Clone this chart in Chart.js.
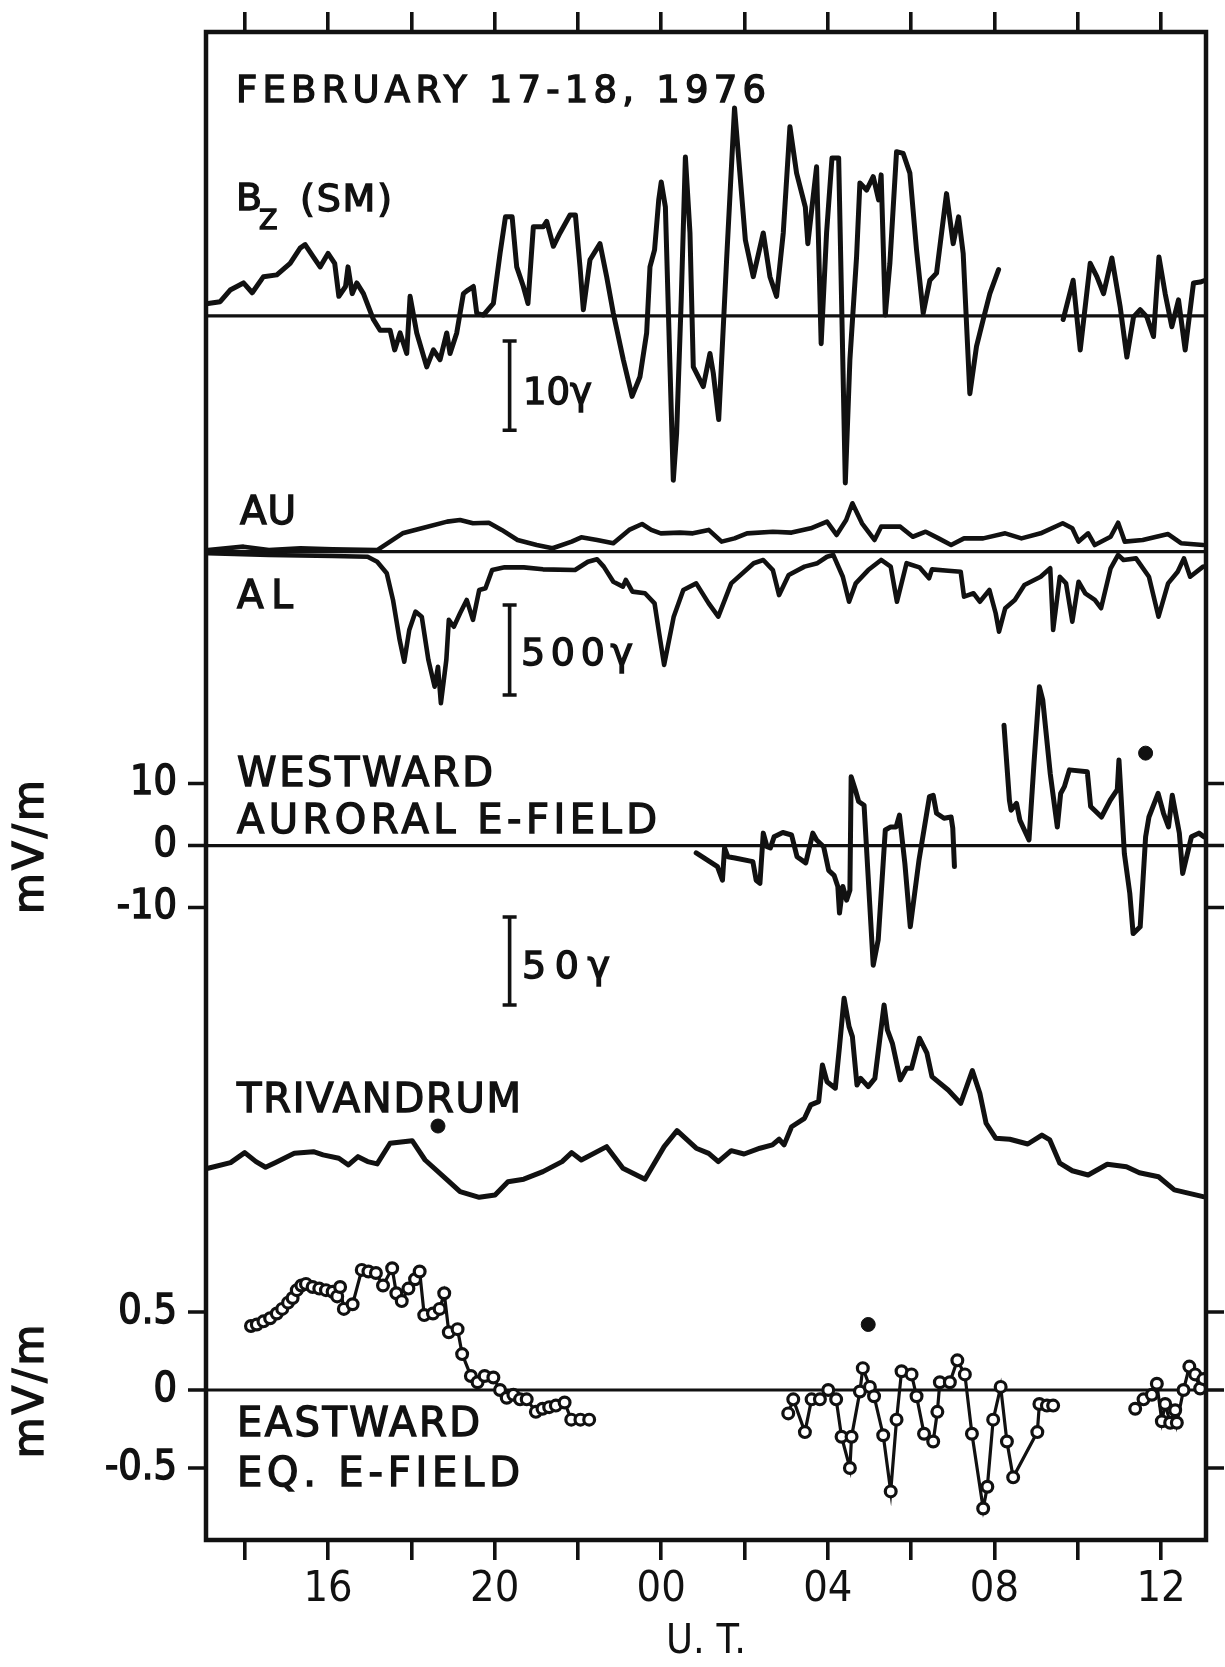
<html><head>
<title>February 17-18, 1976</title>
<style>
  body { margin: 0; background: #fff; }
  canvas { display: block; }
</style>
<script src="https://cdn.jsdelivr.net/npm/chart.js"></script>
</head>
<body>
<canvas id="storm" width="1225" height="1667"></canvas>
<script>
// values; time is UT hours counted from 00 on Feb 17
const bzHours = [13.12,13.41,13.65,13.97,14.18,14.45,14.77,15.09,15.33,15.45,15.65,15.81,16.00,16.16,16.26,16.42,16.48,16.58,16.69,16.85,
  17.09,17.25,17.49,17.60,17.73,17.89,17.97,18.13,18.37,18.53,18.69,18.85,18.93,19.09,19.25,19.36,19.49,19.57,19.73,19.97,
  20.13,20.26,20.42,20.53,20.69,20.80,20.93,21.17,21.25,21.41,21.57,21.81,21.94,22.05,22.13,22.29,22.53,22.69,22.85,23.09,
  23.30,23.49,23.65,23.73,23.84,23.94,24.00,24.10,24.21,24.29,24.37,24.48,24.58,24.69,24.77,25.01,25.17,25.25,25.38,25.57,
  25.76,26.02,26.21,26.45,26.61,26.77,26.93,27.09,27.25,27.46,27.52,27.73,27.84,27.97,28.10,28.26,28.42,28.53,28.69,28.77,
  28.93,29.09,29.22,29.28,29.38,29.49,29.65,29.81,29.97,30.13,30.29,30.45,30.61,30.85,31.01,31.14,31.25,31.41,31.57,31.73,
  31.89,32.10,32.90,
  33.65,33.89,34.06,34.30,34.46,34.62,34.82,35.02,35.18,35.34,35.50,35.66,35.82,35.95,36.10,36.26,36.42,36.58,36.78,36.94,37.06];
const bzGamma = [1.4,1.6,2.9,3.7,2.6,4.4,4.6,5.9,7.6,8.0,6.6,5.5,7.0,5.9,2.2,3.3,5.5,2.5,3.7,2.5,
  -0.4,-1.6,-1.6,-3.8,-1.9,-4.2,2.2,-1.9,-5.7,-3.8,-4.9,-1.9,-4.2,-1.9,2.5,2.9,3.3,0.3,0.1,1.4,
  7.0,11.1,11.1,5.5,3.3,1.4,10.0,10.0,10.6,7.8,9.3,11.3,11.3,5.5,0.7,6.3,8.1,4.4,0.3,-4.9,
  -9.0,-6.8,-1.9,5.5,7.4,13.0,15.0,12.2,-5.7,-18.4,-13.1,1.8,17.8,9.3,-5.7,-7.9,-4.2,-6.4,-11.6,6.3,
  23.3,8.5,4.4,9.3,4.4,2.2,9.3,21.2,16.0,12.2,8.1,16.7,-3.1,9.3,17.7,17.7,-18.7,-4.9,6.6,14.9,
  14.1,15.6,13.0,15.8,0.1,5.9,18.4,18.2,16.0,7.4,0.3,4.0,4.8,13.7,8.1,11.1,7.0,-8.7,-3.4,-0.4,
  2.5,5.2,null,
  -0.4,4.0,-3.8,5.9,4.4,2.5,6.5,1.0,-4.6,-0.1,0.7,-0.1,-2.3,6.6,2.5,-1.2,1.8,-3.8,3.7,3.8,4.0];

const auHours = [13.12,13.97,14.58,15.34,16.11,17.18,17.49,17.79,18.25,18.86,19.17,19.48,19.86,20.17,20.55,21.01,21.39,21.85,22.08,22.46,
  22.85,23.23,23.54,23.76,23.99,24.45,24.76,25.14,25.45,25.76,26.06,26.68,27.13,27.59,27.98,28.21,28.44,28.59,28.82,29.12,
  29.28,29.74,30.04,30.35,30.66,30.96,31.27,31.73,32.26,32.65,33.11,33.64,33.87,34.02,34.25,34.41,34.79,34.97,35.13,35.56,
  36.17,36.48,37.01];
const auGamma = [9,28,9,19,13,9,56,102,130,167,176,158,161,121,65,37,19,56,80,65,
  47,121,154,121,102,106,102,121,56,74,102,111,106,130,167,93,176,269,158,65,
  139,139,83,111,74,37,74,74,102,74,102,158,130,56,102,37,83,161,56,65,
  98,47,37];

const alHours = [13.12,14.58,16.11,16.95,17.18,17.41,17.56,17.72,17.83,17.95,18.10,18.25,18.41,18.56,18.64,18.71,18.84,18.90,19.02,19.17,
  19.33,19.48,19.63,19.78,19.94,20.24,20.70,21.16,21.93,22.24,22.46,22.62,22.85,23.08,23.15,23.31,23.61,23.84,23.95,24.07,
  24.30,24.53,24.84,25.14,25.37,25.68,26.22,26.45,26.68,26.83,27.06,27.44,27.75,27.98,28.13,28.36,28.51,28.67,28.97,29.28,
  29.51,29.66,29.89,30.20,30.43,30.50,30.89,31.19,31.27,31.50,31.65,31.88,32.03,32.11,32.26,32.49,32.72,33.11,33.34,33.41,
  33.57,33.72,33.87,34.02,34.18,34.41,34.56,34.79,34.97,35.10,35.40,35.71,35.94,36.17,36.40,36.55,36.70,37.01];
const alGamma = [-9,-18,-24,-28,-56,-120,-268,-491,-611,-435,-333,-361,-602,-750,-639,-842,-602,-379,-417,-342,
  -268,-379,-213,-203,-102,-87,-87,-98,-102,-56,-42,-83,-167,-194,-157,-222,-231,-287,-453,-629,
  -361,-213,-176,-287,-361,-176,-64,-46,-102,-241,-129,-83,-64,-28,-18,-139,-278,-176,-102,-46,
  -83,-278,-64,-87,-148,-98,-106,-111,-250,-231,-278,-213,-342,-444,-314,-268,-185,-139,-92,-435,
  -139,-176,-389,-167,-231,-268,-314,-92,-18,-46,-37,-139,-361,-176,-111,-37,-139,-83];

const westHours = [24.84,25.35,25.47,25.52,25.60,25.77,26.20,26.28,26.37,26.45,26.54,26.62,26.71,26.92,27.13,27.26,27.47,27.64,27.73,27.90,
  28.02,28.15,28.24,28.28,28.36,28.45,28.53,28.56,28.66,28.74,28.87,29.09,29.21,29.38,29.51,29.64,29.72,29.85,29.98,30.19,
  30.44,30.53,30.61,30.79,30.96,31.00,31.04,31.60,
  32.23,32.36,32.40,32.53,32.61,32.83,32.95,33.08,33.16,33.34,33.51,33.59,33.68,33.80,34.23,34.31,34.57,34.78,34.95,34.99,
  35.12,35.25,35.33,35.50,35.63,35.71,35.93,36.06,36.18,36.27,36.44,36.52,36.73,36.91,37.03];
const westMV = [-1.2,-3.4,-5.6,-0.4,-1.8,-2.0,-2.6,-5.6,-6.1,2.0,-0.2,-0.4,1.4,2.1,1.7,-1.8,-2.8,2.0,0.9,-0.2,
  -4.0,-4.8,-6.6,-10.9,-6.6,-8.8,-7.2,11.1,9.0,7.1,6.5,-19.3,-15.2,2.5,3.0,3.0,4.9,-2.9,-13.1,-2.3,
  7.9,8.1,5.2,4.4,4.6,2.8,-3.4,null,
  19.4,7.3,5.7,6.8,4.1,0.9,13.3,25.6,23.5,11.6,3.0,8.4,9.5,12.2,11.9,6.3,4.6,7.3,9.0,13.8,
  -1.3,-7.7,-14.2,-13.1,1.4,4.6,8.4,5.2,3.0,8.1,2.0,-4.5,1.4,2.0,1.4];

const trivHours = [13.12,13.66,14.00,14.27,14.50,14.73,15.19,15.65,15.88,16.26,16.49,16.72,16.95,17.18,17.49,18.02,18.33,18.86,19.17,19.63,
  20.01,20.32,20.70,21.16,21.62,21.85,22.08,22.69,23.08,23.61,24.07,24.38,24.84,25.14,25.37,25.68,25.99,26.37,26.67,26.83,
  26.95,27.13,27.44,27.59,27.78,27.87,27.98,28.18,28.28,28.39,28.51,28.59,28.70,28.79,28.97,29.13,29.35,29.43,29.55,29.74,
  29.89,30.01,30.20,30.38,30.50,30.89,31.19,31.47,31.65,31.80,32.03,32.37,32.80,33.14,33.33,33.57,33.87,34.25,34.71,35.17,
  35.48,35.94,36.32,37.01];
const trivGamma = [18.0,21.2,26.9,21.8,18.6,21.2,26.5,27.4,25.6,23.7,19.9,24.6,21.8,20.5,32.2,33.7,22.7,11.4,4.7,1.5,
  2.8,10.4,11.8,16.1,21.8,26.9,22.7,30.3,18.0,11.8,30.3,39.4,29.4,26.5,21.8,28.0,26.1,29.4,31.3,34.5,
  31.3,41.6,46.4,54.0,55.9,76.7,67.2,63.5,87.1,114.6,98.5,92.8,65.3,69.1,64.4,69.1,110.8,96.6,89.0,68.2,
  74.8,74.8,91.9,83.4,70.1,62.5,54.9,73.5,60.6,43.6,35.1,34.5,31.8,36.9,34.1,20.9,16.6,14.2,20.3,18.9,
  15.5,13.2,5.7,1.9];

const eqHours = [14.15,14.29,14.45,14.61,14.77,14.90,15.04,15.15,15.25,15.36,15.47,15.63,15.79,15.95,16.11,16.22,16.29,16.38,16.59,16.81,
  16.97,17.15,17.32,17.54,17.64,17.77,17.93,18.09,18.20,18.31,18.52,18.68,18.79,18.90,19.11,19.22,19.43,19.59,19.76,19.97,
  20.13,20.29,20.45,20.61,20.77,20.99,21.15,21.31,21.47,21.68,21.84,22.06,22.27,25.00,
  27.05,27.17,27.45,27.61,27.81,28.01,28.20,28.33,28.53,28.57,28.77,28.84,29.01,29.11,29.33,29.51,29.65,29.77,30.01,30.13,
  30.31,30.53,30.63,30.69,30.93,31.11,31.29,31.46,31.73,31.83,31.97,32.15,32.30,32.45,33.03,33.08,33.26,33.41,34.50,
  35.38,35.58,35.78,35.90,36.02,36.10,36.22,36.34,36.38,36.54,36.68,36.82,36.94,37.02];
const eqMV = [0.41,0.42,0.44,0.46,0.49,0.52,0.56,0.59,0.64,0.67,0.68,0.66,0.65,0.64,0.63,0.60,0.66,0.52,0.55,0.77,
  0.76,0.75,0.67,0.78,0.62,0.57,0.65,0.71,0.76,0.48,0.49,0.52,0.62,0.37,0.39,0.23,0.09,0.05,0.09,0.08,
  0.00,-0.05,-0.03,-0.06,-0.06,-0.14,-0.12,-0.11,-0.10,-0.08,-0.19,-0.19,-0.19,null,
  -0.15,-0.06,-0.27,-0.06,-0.06,0.00,-0.06,-0.30,-0.50,-0.30,-0.01,0.14,0.02,-0.04,-0.29,-0.65,-0.19,0.12,0.10,-0.04,
  -0.28,-0.33,-0.14,0.05,0.05,0.19,0.10,-0.28,-0.76,-0.62,-0.19,0.02,-0.33,-0.56,-0.27,-0.09,-0.10,-0.10,null,
  -0.12,-0.06,-0.03,0.04,-0.20,-0.09,-0.21,-0.13,-0.21,0.00,0.15,0.10,0.01,0.07];

// the three solid dots marked in the figure
const westDot = [35.63, 14.9];
const trivDot = [18.64, 42.0];
const eqDot = [28.97, 0.42];

const utHours = [16, 20, 24, 28, 32, 36];
const utLabels = ['16', '20', '00', '04', '08', '12'];
const westTicks = [-10, 0, 10];
const westTickLabels = ['-10', '0', '10'];
const eqTicks = [-0.5, 0, 0.5];
const eqTickLabels = ['-0.5', '0', '0.5'];

const INK = '#111';
const FONT = "'DejaVu Sans', sans-serif";
const NARROW = "'DejaVu Sans Condensed', 'DejaVu Sans', sans-serif";
Chart.defaults.font.family = NARROW;
Chart.defaults.color = INK;

function zip(xs, ys) {
  return xs.map((x, i) => ({ x: x, y: ys[i] }));
}

function trace(data, axis, width) {
  return {
    data: data, yAxisID: axis, borderColor: INK, borderWidth: width || 5,
    pointRadius: 0, tension: 0, spanGaps: false,
    borderJoinStyle: 'round', borderCapStyle: 'round'
  };
}

function dot(p, axis) {
  return {
    type: 'scatter', data: [{ x: p[0], y: p[1] }], yAxisID: axis,
    pointRadius: 7, pointBackgroundColor: INK, pointBorderColor: INK
  };
}

// hand lettering: optionally stretched to a given width, drawn with a pen stroke
function letter(ctx, text, x, base, size, width, family) {
  ctx.font = size + 'px ' + (family || FONT);
  ctx.letterSpacing = '0px';
  if (width) {
    const w = ctx.measureText(text).width;
    ctx.letterSpacing = ((width - w) / Math.max(1, text.length - 1)) + 'px';
  }
  ctx.lineWidth = 1.4;
  ctx.strokeText(text, x, base);
  ctx.fillText(text, x, base);
  ctx.letterSpacing = '0px';
}

const decor = {
  id: 'decor',
  beforeDatasetsDraw(chart) {
    const { ctx, chartArea: a, scales } = chart;
    ctx.save();
    ctx.strokeStyle = INK;
    ctx.lineWidth = 3.2;
    ['yBz', 'yAE', 'yWest', 'yEq'].forEach(id => {
      const y = scales[id].getPixelForValue(0);
      ctx.beginPath();
      ctx.moveTo(a.left, y);
      ctx.lineTo(a.right, y);
      ctx.stroke();
    });
    ctx.restore();
  },
  afterDraw(chart) {
    const { ctx, chartArea: a, scales } = chart;
    ctx.save();
    ctx.strokeStyle = INK;
    ctx.fillStyle = INK;

    // frame
    ctx.lineWidth = 4.5;
    ctx.strokeRect(a.left, a.top, a.right - a.left, a.bottom - a.top);

    // y ticks of the two electric field panels, both sides
    ctx.textAlign = 'right';
    ctx.textBaseline = 'middle';
    [['yWest', westTicks, westTickLabels], ['yEq', eqTicks, eqTickLabels]].forEach(([id, ticks, labels]) => {
      ticks.forEach((v, i) => {
        const y = scales[id].getPixelForValue(v);
        ctx.lineWidth = 3.6;
        ctx.beginPath();
        ctx.moveTo(a.left - 18, y); ctx.lineTo(a.left, y);
        ctx.moveTo(a.right, y); ctx.lineTo(a.right + 18, y);
        ctx.stroke();
        letter(ctx, labels[i], a.left - 29, y, 41, 0, NARROW);
      });
    });

    // rotated unit labels
    ctx.textAlign = 'center';
    ['yWest', 'yEq'].forEach(id => {
      const y = scales[id].getPixelForValue(0);
      ctx.save();
      ctx.translate(32, y);
      ctx.rotate(-Math.PI / 2);
      ctx.font = '42px ' + FONT;
      ctx.letterSpacing = '3px';
      ctx.lineWidth = 1.4;
      ctx.strokeText('mV/m', 0, 0);
      ctx.fillText('mV/m', 0, 0);
      ctx.restore();
    });

    // scale bars
    ctx.lineWidth = 3.6;
    const bars = [['yBz', -2.8, 10], ['yAE', -296, 500], ['yTriv', 160.8, 50]];
    bars.forEach(([id, from, len]) => {
      const x = scales.x.getPixelForValue(20.36);
      const y1 = scales[id].getPixelForValue(from);
      const y2 = scales[id].getPixelForValue(from - len);
      ctx.beginPath();
      ctx.moveTo(x, y1); ctx.lineTo(x, y2);
      ctx.moveTo(x - 7, y1); ctx.lineTo(x + 7, y1);
      ctx.moveTo(x - 7, y2); ctx.lineTo(x + 7, y2);
      ctx.stroke();
    });

    // lettering
    ctx.textAlign = 'left';
    ctx.textBaseline = 'alphabetic';
    letter(ctx, 'FEBRUARY 17-18, 1976', 236, 102, 37, 530);
    letter(ctx, 'B', 236, 210, 38);
    letter(ctx, 'Z', 259, 229, 27);
    letter(ctx, '(SM)', 300, 211, 38, 92);
    letter(ctx, '10\u03b3', 523, 404, 37);
    letter(ctx, 'AU', 240, 524, 39, 56);
    letter(ctx, 'AL', 237, 608, 39, 56);
    letter(ctx, '500\u03b3', 521, 665, 38, 112);
    letter(ctx, 'WESTWARD', 237, 786, 40, 256);
    letter(ctx, 'AURORAL E-FIELD', 237, 833, 40, 420);
    letter(ctx, '50\u03b3', 522, 978, 38, 88);
    letter(ctx, 'TRIVANDRUM', 237, 1112, 40, 284);
    letter(ctx, 'EASTWARD', 237, 1436, 40, 243);
    letter(ctx, 'EQ. E-FIELD', 237, 1486, 40, 283);
    ctx.restore();
  }
};

const timeAxis = (position) => ({
  type: 'linear', position: position, min: 13.07, max: 37.08,
  afterFit: s => { s.height = position === 'top' ? 32 : 127; },
  border: { display: false },
  grid: { drawOnChartArea: false, drawTicks: true, tickLength: 20, lineWidth: 3.6, color: INK },
  ticks: {
    display: position === 'bottom', stepSize: 2, includeBounds: false, autoSkip: false,
    maxRotation: 0, padding: 4, color: INK, font: { size: 43 },
    callback: v => { const i = utHours.indexOf(v); return i < 0 ? '' : utLabels[i]; }
  },
  title: {
    display: position === 'bottom', text: 'U. T.', color: INK,
    font: { size: 41 }, padding: { top: 0, bottom: 0 }
  }
});

const hidden = (min, max) => ({ type: 'linear', display: false, min: min, max: max });

new Chart(document.getElementById('storm'), {
  type: 'line',
  data: {
    datasets: [
      trace(zip(bzHours, bzGamma), 'yBz'),
      trace(zip(auHours, auGamma), 'yAE', 4.6),
      trace(zip(alHours, alGamma), 'yAE', 4.6),
      trace(zip(westHours, westMV), 'yWest'),
      dot(westDot, 'yWest'),
      trace(zip(trivHours, trivGamma), 'yTriv'),
      dot(trivDot, 'yTriv'),
      {
        data: zip(eqHours, eqMV), yAxisID: 'yEq', borderColor: INK, borderWidth: 3.2,
        tension: 0, spanGaps: false, pointRadius: 5.4, pointBorderWidth: 3.2,
        pointBackgroundColor: '#fff', pointBorderColor: INK
      },
      dot(eqDot, 'yEq')
    ]
  },
  options: {
    responsive: false,
    animation: false,
    devicePixelRatio: 1,
    layout: { padding: { left: 206, right: 19, top: 0, bottom: 0 } },
    plugins: { legend: { display: false }, tooltip: { enabled: false } },
    scales: {
      x: timeAxis('bottom'),
      xTop: timeAxis('top'),
      yBz: hidden(-137.07, 31.80),
      yAE: hidden(-5490.6, 2887.2),
      yWest: hidden(-112.0, 131.2),
      yTriv: hidden(-193.2, 663.6),
      yEq: hidden(-0.9615, 8.705)
    }
  },
  plugins: [decor]
});
</script>
</body></html>
